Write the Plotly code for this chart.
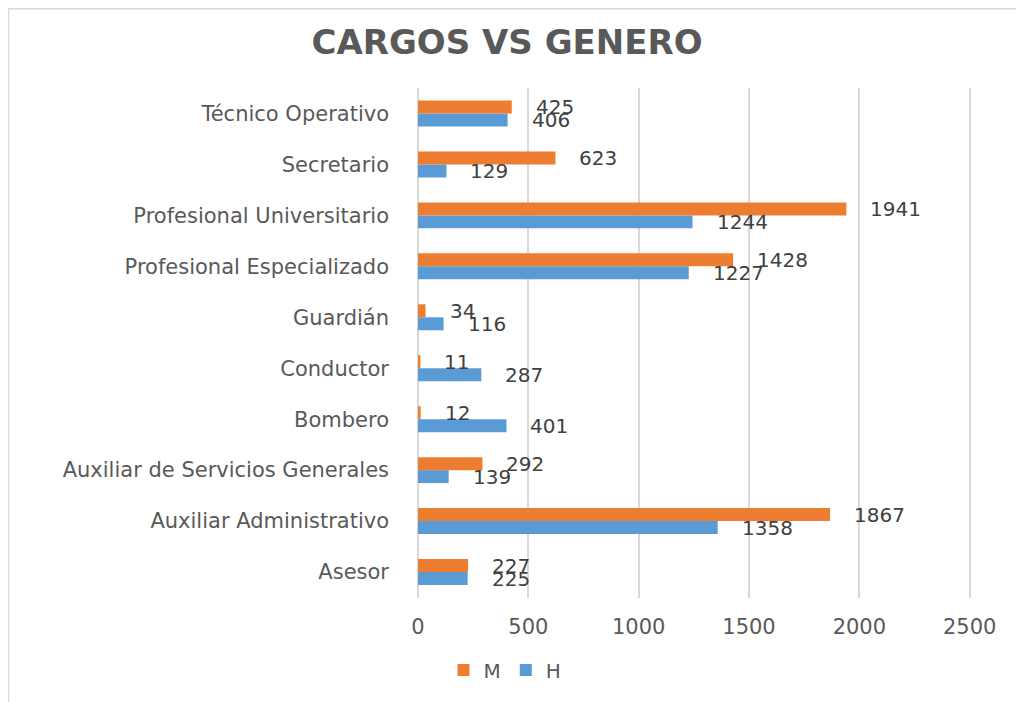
import plotly.graph_objects as go

categories = ["Asesor", "Auxiliar Administrativo", "Auxiliar de Servicios Generales",
              "Bombero", "Conductor", "Guardián", "Profesional Especializado",
              "Profesional Universitario", "Secretario", "Técnico Operativo"]
mujeres = [227, 1867, 292, 12, 11, 34, 1428, 1941, 623, 425]
hombres = [225, 1358, 139, 401, 287, 116, 1227, 1244, 129, 406]
x_ticks = [0, 500, 1000, 1500, 2000, 2500]
x_max = 2515

ORANGE = "#ED7D31"
BLUE = "#5B9BD5"
TXT = "#595959"
LBL = "#404040"
GRID = "#D9D9D9"

# page body has an 8px margin: figure occupies screen (8..1024, 8..702)
W, H = 1016, 694
OFF = 8

fig = go.Figure()
fig.add_trace(go.Bar(y=categories, x=hombres, name="H", orientation="h",
                     marker=dict(color=BLUE, line=dict(width=0)), legendrank=2))
fig.add_trace(go.Bar(y=categories, x=mujeres, name="M", orientation="h",
                     marker=dict(color=ORANGE, line=dict(width=0)), legendrank=1))

annotations = []
for vals, shift in ((mujeres, 6.5), (hombres, -6.5)):
    for c, v in zip(categories, vals):
        annotations.append(dict(x=v, y=c, xref="x", yref="y", text=str(v),
                                showarrow=False, xanchor="left", yanchor="middle",
                                xshift=22, yshift=shift,
                                font=dict(family="DejaVu Sans", size=20, color=LBL)))

# plot area in screen pixels: x 418..(418 + 0.2208*x_max), y 88..599
x_right = 418 + 0.2208 * x_max
L = 418 - OFF
R = round((OFF + W) - x_right)
T = 88 - OFF
B = (OFF + H) - 599
pw = W - L - R
ph = H - T - B
def px(xs):
    return (xs - OFF - L) / pw
def py(ys):
    return (OFF + H - B - ys) / ph

shapes = [dict(type="path", xref="paper", yref="paper",
               path=f"M {px(1040)} {py(8.5)} L {px(8.5)} {py(8.5)} L {px(8.5)} {py(710)}",
               line=dict(color=GRID, width=1.5))]

fig.update_layout(
    width=W, height=H,
    margin=dict(l=L, r=R, t=T, b=B),
    paper_bgcolor="white", plot_bgcolor="white",
    barmode="group", bargap=0.49, bargroupgap=0,
    title=dict(text="<b>CARGOS VS GENERO</b>", x=(507 - OFF) / W, xref="container", xanchor="center",
               y=1 - (42 - OFF) / H, yref="container", yanchor="middle",
               font=dict(family="DejaVu Sans", size=34, color=TXT)),
    xaxis=dict(range=[0, x_max], tickvals=x_ticks, ticktext=[str(t) for t in x_ticks],
               showgrid=True, gridcolor=GRID, gridwidth=2,
               zeroline=True, zerolinecolor=GRID, zerolinewidth=2,
               showline=False, ticks="", ticklabelstandoff=14,
               tickfont=dict(family="DejaVu Sans", size=21, color=TXT), fixedrange=True),
    yaxis=dict(showgrid=False, zeroline=False, showline=False, ticks="",
               ticklabelstandoff=28,
               tickfont=dict(family="DejaVu Sans", size=21, color=TXT)),
    legend=dict(orientation="h", xref="container", yref="container",
                x=(505 - OFF) / W, xanchor="center", y=1 - (670 - OFF) / H, yanchor="middle",
                font=dict(family="DejaVu Sans", size=20, color=TXT),
                itemwidth=30, traceorder="normal"),
    annotations=annotations,
    shapes=shapes,
    font=dict(family="DejaVu Sans", color=TXT),
)

fig.write_html("out.html")
